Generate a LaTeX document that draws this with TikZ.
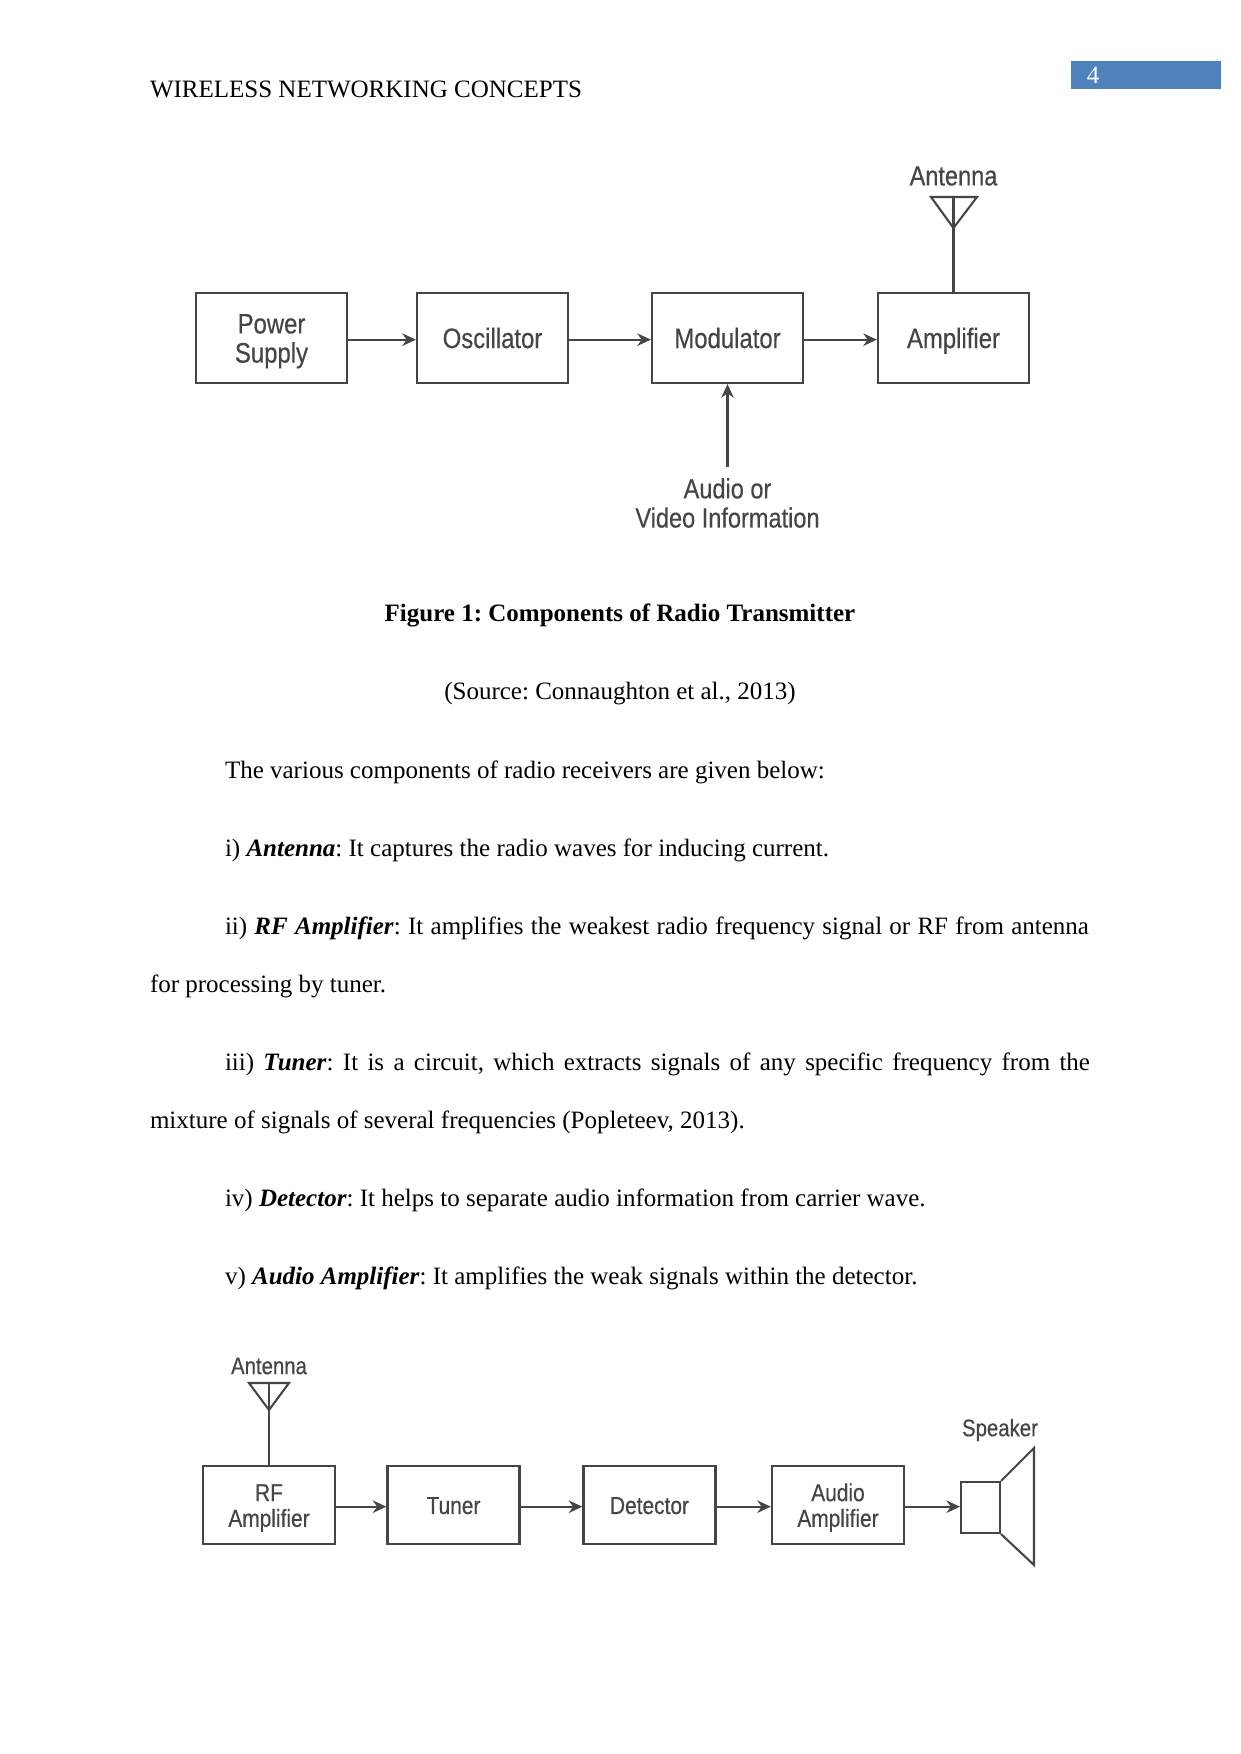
\documentclass[tikz,border=0pt]{standalone}
\usepackage{fontspec}
\usetikzlibrary{arrows.meta}
\setmainfont{Liberation Serif}
\newfontfamily\diagfont[FakeStretch=0.85,FakeBold=0.35]{Liberation Sans}
\definecolor{pagebar}{HTML}{4F81BD}
\definecolor{ink}{gray}{0.27}
\frenchspacing
% invisible rules that centre the capitals of a block label on the block
\newcommand{\bigtop}{\rule{0pt}{13pt}}
\newcommand{\bigbot}{\rule[-3.4pt]{0pt}{0pt}}
\newcommand{\smalltop}{\rule{0pt}{12pt}}
\newcommand{\smallbot}{\rule[-3.4pt]{0pt}{0pt}}
\tikzset{
  x=0.48pt,y=-0.48pt,
  body/.style={anchor=base west,inner sep=0pt,outer sep=0pt,font=\fontsize{12}{14}\selectfont,text=black},
  centred/.style={anchor=base,inner sep=0pt,outer sep=0pt,font=\fontsize{12}{14}\selectfont,text=black},
  blockbig/.style={draw=ink,line width=1.1pt,minimum width=72.5pt,minimum height=43.2pt,inner sep=0pt,align=center,text=ink,font=\diagfont\fontsize{13.5}{14}\selectfont},
  blocksmall/.style={draw=ink,line width=1.1pt,minimum width=63.4pt,minimum height=37.4pt,inner sep=0pt,align=center,text=ink,font=\diagfont\fontsize{11.8}{12.3}\selectfont},
  tag/.style={inner sep=0pt,align=center,text=ink,font=\diagfont\fontsize{13.3}{14}\selectfont},
  tagsmall/.style={inner sep=0pt,align=center,text=ink,font=\diagfont\fontsize{11.5}{12.3}\selectfont},
  link/.style={draw=ink,line width=1pt,-{Stealth[length=6.5pt,width=6pt]}},
  wire/.style={draw=ink,line width=1pt},
  dish/.style={draw=ink,line width=1pt,line join=miter},
}
\begin{document}
\begin{tikzpicture}
\useasboundingbox (0,0) rectangle (1241,1754);
\fill[white] (0,0) rectangle (1241,1754);

% running header and page number
\node[body] (header) at (150,97) {WIRELESS NETWORKING CONCEPTS};
\node[fill=pagebar,minimum width=72pt,minimum height=13pt,inner sep=0pt,anchor=north west] (bar) at (1071,61) {};
\node[anchor=base,inner sep=0pt,text=white,font=\fontsize{12}{14}\selectfont] (pageno) at (1093,83) {4};

% transmitter block diagram
\node[blockbig] (psu) at (271.5,338) {\bigtop Power\\Supply\bigbot};
\node[blockbig] (osc) at (492.5,338) {\bigtop Oscillator\bigbot};
\node[blockbig] (mod) at (727.5,338) {\bigtop Modulator\bigbot};
\node[blockbig] (amp) at (953.5,338) {\bigtop Amplifier\bigbot};
\node[tag] (txant) at (953.5,176) {Antenna};
\node[tag] (info) at (727.5,503) {Audio or\\Video Information};
\coordinate (infotop) at (727.5,467);
\coordinate (txapex) at (953.5,228);
\coordinate (txleft) at (931,197);
\coordinate (txright) at (977,197);
\coordinate (txmid) at (953.5,197);
\draw[link] ([yshift=-0.8pt]psu.east) -- ([yshift=-0.8pt]osc.west);
\draw[link] ([yshift=-0.8pt]osc.east) -- ([yshift=-0.8pt]mod.west);
\draw[link] ([yshift=-0.8pt]mod.east) -- ([yshift=-0.8pt]amp.west);
\draw[link] (infotop) -- (mod);
\draw[wire] (amp) -- (txapex);
\draw[dish] (txleft) -- (txright) -- (txapex) -- cycle;
\draw[wire] (txmid) -- (txapex);

% captions
\node[centred,font=\fontsize{12}{14}\selectfont\bfseries] (figcap) at (620,621) {Figure 1: Components of Radio Transmitter};
\node[centred] (figsrc) at (620,699.5) {(Source: Connaughton et al., 2013)};

% body text
\node[body] (l1) at (225,778) {The various components of radio receivers are given below:};
\node[body] (l2) at (225,856) {i) \textbf{\textit{Antenna}}: It captures the radio waves for inducing current.};
\node[body] (l3) at (225,934) {\hbox to 414.7pt{ii) \textbf{\textit{RF Amplifier}}: It amplifies the weakest radio frequency signal or RF from antenna}};
\node[body] (l4) at (150,992.5) {for processing by tuner.};
\node[body] (l5) at (225,1070.5) {\hbox to 415.2pt{iii) \textbf{\textit{Tuner}}: It is a circuit, which extracts signals of any specific frequency from the}};
\node[body] (l6) at (150,1128.5) {mixture of signals of several frequencies (Popleteev, 2013).};
\node[body] (l7) at (225,1206) {iv) \textbf{\textit{Detector}}: It helps to separate audio information from carrier wave.};
\node[body] (l8) at (225,1284.5) {v) \textbf{\textit{Audio Amplifier}}: It amplifies the weak signals within the detector.};

% receiver block diagram
\node[blocksmall] (rf) at (269,1505) {\smalltop RF\\Amplifier\smallbot};
\node[blocksmall] (tuner) at (453.5,1505) {\smalltop Tuner\smallbot};
\node[blocksmall] (det) at (649.5,1505) {\smalltop Detector\smallbot};
\node[blocksmall] (aud) at (838,1505) {\smalltop Audio\\Amplifier\smallbot};
\node[draw=ink,line width=1pt,minimum width=18.7pt,minimum height=24.5pt,inner sep=0pt] (mag) at (980.5,1507.5) {};
\node[tagsmall] (rxant) at (269,1366) {Antenna};
\node[tagsmall] (spk) at (1000,1430) {Speaker};
\coordinate (rxapex) at (269,1410);
\coordinate (rxleft) at (249,1383);
\coordinate (rxright) at (289,1383);
\coordinate (rxmid) at (269,1383);
\coordinate (conetop) at (1034,1448);
\coordinate (conebot) at (1034,1565);
\draw[link] ([yshift=-0.8pt]rf.east) -- ([yshift=-0.8pt]tuner.west);
\draw[link] ([yshift=-0.8pt]tuner.east) -- ([yshift=-0.8pt]det.west);
\draw[link] ([yshift=-0.8pt]det.east) -- ([yshift=-0.8pt]aud.west);
\draw[link] ([yshift=-0.8pt]aud.east) -- ([yshift=-0.8pt]aud.east -| mag.west);
\draw[wire] (rf) -- (rxapex);
\draw[dish] (rxleft) -- (rxright) -- (rxapex) -- cycle;
\draw[wire] (rxmid) -- (rxapex);
\draw[dish] (mag.north east) -- (conetop) -- (conebot) -- (mag.south east);
\end{tikzpicture}
\end{document}
